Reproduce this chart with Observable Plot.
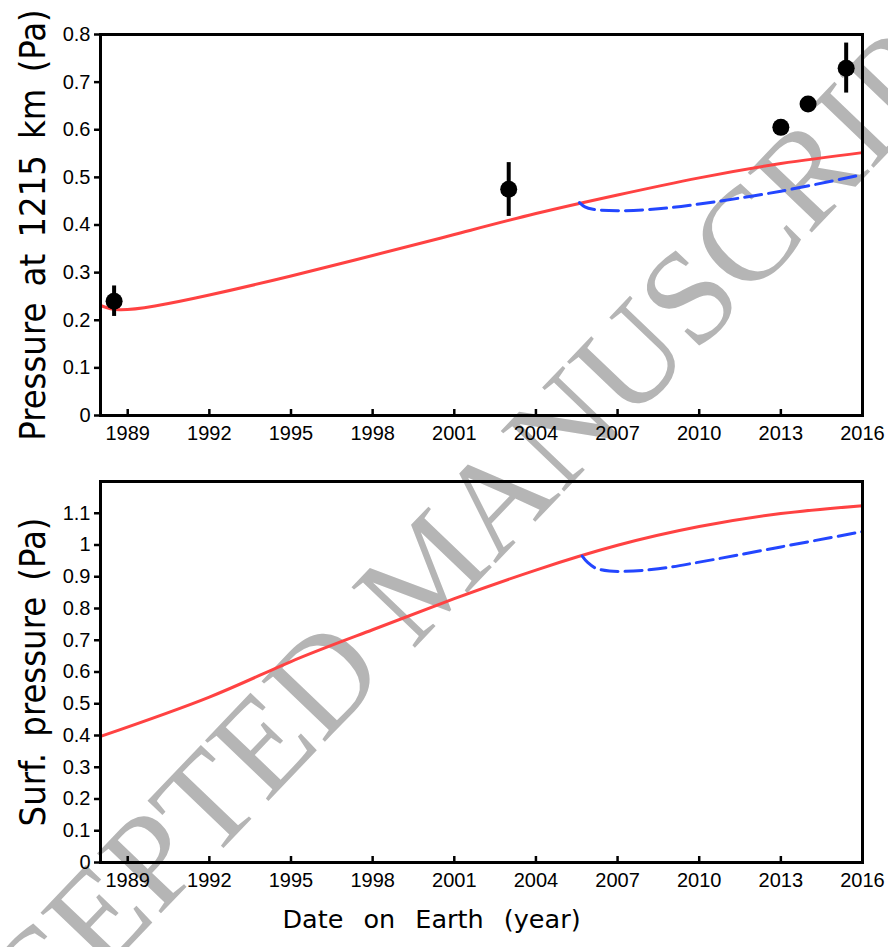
<!DOCTYPE html>
<html>
<head>
<meta charset="utf-8">
<script src="https://cdn.jsdelivr.net/npm/d3@7"></script>
<script src="https://cdn.jsdelivr.net/npm/@observablehq/plot@0.6"></script>
<style>
  body { margin: 0; background: #fff; }
  #wrap { position: relative; width: 888px; height: 947px; overflow: hidden; }
  #wm { position: absolute; left: 0; top: 0; z-index: 0; }
  #charts { position: absolute; left: 0; top: 0; z-index: 1; }
  #charts svg { display: block; }
</style>
</head>
<body>
<div id="wrap">
  <svg id="wm" width="888" height="947"></svg>
  <div id="charts"></div>
</div>
<script>
// ---------- data ----------
const xTicks = [1989, 1992, 1995, 1998, 2001, 2004, 2007, 2010, 2013, 2016];
const yTicksTop = [0, 0.1, 0.2, 0.3, 0.4, 0.5, 0.6, 0.7, 0.8];
const yTicksBottom = [0, 0.1, 0.2, 0.3, 0.4, 0.5, 0.6, 0.7, 0.8, 0.9, 1, 1.1];

// top panel: pressure at 1215 km
const topRedYears  = [1988.0, 1988.7, 1990, 1992, 1995, 1998, 2001, 2004, 2007, 2010, 2013, 2016];
const topRedValues = [0.231, 0.222, 0.230, 0.253, 0.293, 0.336, 0.380, 0.424, 0.463, 0.499, 0.529, 0.552];
const topBlueYears  = [2005.6, 2005.8, 2006.1, 2007.0, 2008.5, 2010, 2013, 2016];
const topBlueValues = [0.447, 0.438, 0.433, 0.430, 0.434, 0.444, 0.471, 0.506];

// observations
const obsYears  = [1988.5, 2003.0, 2013.0, 2014.0, 2015.4];
const obsValues = [0.240, 0.475, 0.605, 0.654, 0.729];
const obsLow    = [0.208, 0.418, 0.598, 0.647, 0.677];
const obsHigh   = [0.272, 0.531, 0.612, 0.661, 0.782];

// bottom panel: surface pressure
const botRedYears  = [1988, 1992, 1995, 1998, 2001, 2004, 2007, 2010, 2013, 2016];
const botRedValues = [0.397, 0.521, 0.633, 0.733, 0.831, 0.921, 0.999, 1.058, 1.099, 1.124];
const botBlueYears  = [2005.7, 2005.9, 2006.2, 2006.7, 2007.3, 2008.5, 2010, 2013, 2016];
const botBlueValues = [0.965, 0.945, 0.927, 0.918, 0.917, 0.925, 0.946, 0.994, 1.042];

const topTitle = "Pressure at 1215 km (Pa)";
const botTitle = "Surf. pressure (Pa)";
const xTitle = "Date on Earth (year)";
const watermark = "ACCEPTED MANUSCRIPT";

// ---------- build tables ----------
const zip = (xs, ys) => xs.map((x, i) => ({x, y: ys[i]}));
const topRed = zip(topRedYears, topRedValues);
const topBlue = zip(topBlueYears, topBlueValues);
const botRed = zip(botRedYears, botRedValues);
const botBlue = zip(botBlueYears, botBlueValues);
const obs = obsYears.map((x, i) => ({x, y: obsValues[i], lo: obsLow[i], hi: obsHigh[i]}));

const RED = "#ff4242";
const BLUE = "#2346ff";
const tickFont = "'Liberation Sans', Arial, sans-serif";
const yTitleFont = "'Liberation Sans Narrow', 'DejaVu Sans Condensed', sans-serif";
const xTitleFont = "'DejaVu Sans', sans-serif";

function panel({height, marginTop, marginBottom, yDomain, yTicks, red, blue, points, ytitle, xtitle}) {
  const frameH = height - marginTop - marginBottom;
  const frameW = 888 - 100 - 26;
  const marks = [
    Plot.line(red, {x: "x", y: "y", stroke: RED, strokeWidth: 3, curve: "natural"}),
    Plot.line(blue, {x: "x", y: "y", stroke: BLUE, strokeWidth: 3, strokeDasharray: "17,7", curve: "catmull-rom"}),
  ];
  if (points) {
    marks.push(Plot.ruleX(points, {x: "x", y1: "lo", y2: "hi", stroke: "black", strokeWidth: 4}));
    marks.push(Plot.dot(points, {x: "x", y: "y", r: 8.5, fill: "black", stroke: "none"}));
  }
  marks.push(
    // x ticks (inward) and labels
    Plot.ruleX(xTicks, {x: d => d, stroke: "black", strokeWidth: 2.5, insetTop: frameH - 6}),
    Plot.text(xTicks, {x: d => d, frameAnchor: "bottom", text: d => String(d), dy: 10, lineAnchor: "top",
      fontSize: 20, fontFamily: tickFont, fill: "black"}),
    // y ticks (outward) and labels
    Plot.ruleY(yTicks, {y: d => d, stroke: "black", strokeWidth: 2.5, dx: -6, insetRight: frameW - 6}),
    Plot.text(yTicks, {y: d => d, frameAnchor: "left", text: d => String(d), dx: -10, textAnchor: "end", lineAnchor: "middle",
      fontSize: 20, fontFamily: tickFont, fill: "black"}),
    Plot.frame({stroke: "black", strokeWidth: 3}),
    Plot.text([ytitle], {frameAnchor: "left", text: d => d, rotate: -90, dx: -67, fontSize: 36, fontFamily: yTitleFont, textAnchor: "middle", lineAnchor: "middle", fill: "black"})
  );
  if (xtitle) {
    marks.push(Plot.text([xtitle], {frameAnchor: "bottom", text: d => d, dx: -50, dy: 57, fontSize: 25.5, fontFamily: xTitleFont, textAnchor: "middle", lineAnchor: "middle", fill: "black"}));
  }
  return Plot.plot({
    width: 888,
    height,
    marginLeft: 100,
    marginRight: 26,
    marginTop,
    marginBottom,
    style: {background: "transparent", fontFamily: tickFont, overflow: "visible", color: "black"},
    x: {domain: [1988, 2016], label: null, axis: null},
    y: {domain: yDomain, label: null, axis: null},
    marks
  });
}

const topPanel = panel({height: 455, marginTop: 34, marginBottom: 40, yDomain: [0, 0.8], yTicks: yTicksTop,
  red: topRed, blue: topBlue, points: obs, ytitle: topTitle});
const bottomPanel = panel({height: 492, marginTop: 26, marginBottom: 85, yDomain: [0, 1.2], yTicks: yTicksBottom,
  red: botRed, blue: botBlue, points: null, ytitle: botTitle, xtitle: xTitle});

const charts = document.getElementById("charts");
charts.appendChild(topPanel);
charts.appendChild(bottomPanel);

// wide word gaps in axis titles, as in the reference
d3.selectAll("#charts text").each(function() {
  const t = this.textContent;
  if (t === topTitle || t === botTitle) this.setAttribute("word-spacing", "6");
  if (t === xTitle) this.setAttribute("word-spacing", "12");
});

// watermark (drawn beneath the charts)
const wm = d3.select("#wm");
wm.append("text")
  .attr("transform", "translate(428,570) rotate(-46.3)")
  .attr("text-anchor", "middle")
  .attr("dy", "0.33em")
  .attr("font-family", "'Liberation Serif', 'Times New Roman', serif")
  .attr("font-size", 134)
  .attr("fill", "#b5b5b5")
  .text(watermark);
</script>
</body>
</html>
